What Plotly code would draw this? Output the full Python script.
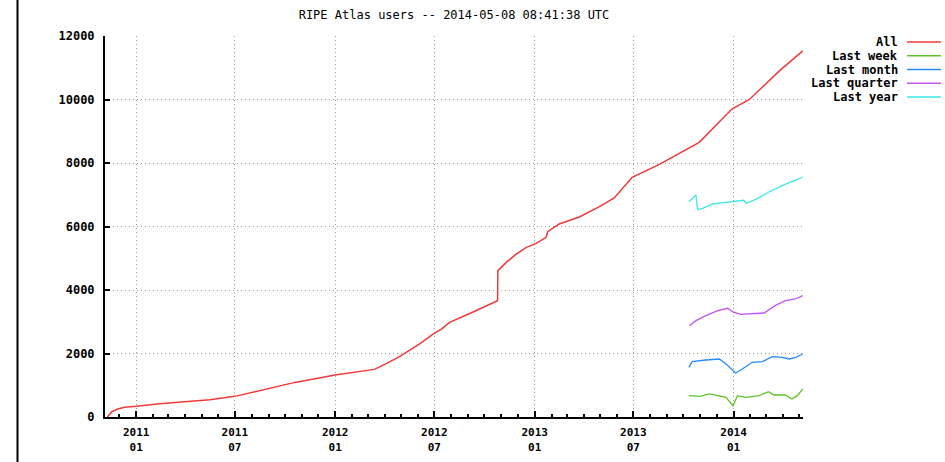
import plotly.graph_objects as go

# ---------------- data ----------------
title_text = "RIPE Atlas users -- 2014-05-08 08:41:38 UTC"
series_names = ["All", "Last week", "Last month", "Last quarter", "Last year"]
series_colors = ["#f03a3a", "#5cc42a", "#2a8af6", "#c455f2", "#3ee8e8"]

all_dates = ["2010-11-09", "2010-11-17", "2010-11-28", "2010-12-11", "2011-01-01",
             "2011-02-13", "2011-03-31", "2011-05-16", "2011-07-01", "2011-08-25",
             "2011-10-19", "2012-01-01", "2012-02-15", "2012-03-13", "2012-04-01",
             "2012-04-28", "2012-06-04", "2012-06-28", "2012-07-14", "2012-07-29",
             "2012-09-09", "2012-10-16", "2012-10-25", "2012-10-25 12:00", "2012-11-10",
             "2012-11-28", "2012-12-17", "2013-01-04", "2013-01-22", "2013-01-25",
             "2013-02-15", "2013-03-24", "2013-04-29", "2013-05-27", "2013-06-29",
             "2013-08-17", "2013-10-30", "2013-12-06", "2013-12-29", "2014-01-30",
             "2014-03-26", "2014-05-08"]
all_values = [0, 160, 250, 310, 340,
              420, 480, 540, 650, 860,
              1090, 1320, 1420, 1500, 1660,
              1900, 2300, 2600, 2770, 2980,
              3300, 3600, 3660, 4610, 4870,
              5130, 5345, 5470, 5660, 5835,
              6080, 6300, 6620, 6900, 7550,
              7950, 8650, 9300, 9700, 10000,
              10900, 11530]

week_dates = ["2013-10-11", "2013-10-31", "2013-11-18", "2013-12-06", "2013-12-18",
              "2013-12-31", "2014-01-08", "2014-01-24", "2014-02-17", "2014-03-06",
              "2014-03-16", "2014-04-06", "2014-04-18", "2014-04-28", "2014-05-08"]
week_values = [672, 651, 725, 672, 620,
               357, 672, 620, 672, 798,
               693, 693, 567, 672, 882]

month_dates = ["2013-10-11", "2013-10-17", "2013-11-11", "2013-12-06", "2013-12-18",
               "2013-12-27", "2014-01-05", "2014-01-17", "2014-02-04", "2014-02-23",
               "2014-03-13", "2014-03-31", "2014-04-13", "2014-04-25", "2014-05-08"]
month_values = [1565, 1743, 1796, 1827, 1670,
                1512, 1386, 1512, 1722, 1743,
                1900, 1880, 1827, 1880, 1985]

quarter_dates = ["2013-10-12", "2013-10-24", "2013-11-11", "2013-12-03", "2013-12-21",
                 "2013-12-30", "2014-01-14", "2014-02-04", "2014-02-26", "2014-03-18",
                 "2014-04-06", "2014-04-24", "2014-05-08"]
quarter_values = [2877, 3034, 3191, 3349, 3423,
                  3318, 3234, 3255, 3276, 3507,
                  3664, 3717, 3822]

year_dates = ["2013-10-11", "2013-10-24", "2013-10-27", "2013-11-05", "2013-11-24",
              "2013-12-18", "2013-12-31", "2014-01-20", "2014-01-24", "2014-02-10",
              "2014-03-06", "2014-03-31", "2014-04-30", "2014-05-08"]
year_values = [6782, 6993, 6530, 6574, 6710,
               6763, 6782, 6825, 6731, 6845,
               7078, 7286, 7497, 7560]

x_tick_vals = ["2011-01-01", "2011-07-01", "2012-01-01", "2012-07-01",
               "2013-01-01", "2013-07-01", "2014-01-01"]
x_tick_text = ["2011<br>01", "2011<br>07", "2012<br>01", "2012<br>07",
               "2013<br>01", "2013<br>07", "2014<br>01"]
y_tick_vals = [0, 2000, 4000, 6000, 8000, 10000, 12000]
x_range = ["2010-11-04 19:00", "2014-05-08 08:41"]
y_range = [0, 12000]

# ---------------- figure ----------------
W, H = 945, 462
L, R, T, B = 105, 142, 36, 45
pw, ph = W - L - R, H - T - B

series = [(all_dates, all_values), (week_dates, week_values), (month_dates, month_values),
          (quarter_dates, quarter_values), (year_dates, year_values)]

fig = go.Figure()
for i, ((xs, ys), name, col) in enumerate(zip(series, series_names, series_colors)):
    fig.add_trace(go.Scatter(x=xs, y=ys, mode="lines", name=name,
                             line=dict(color=col, width=1.5 if i == 0 else 1.3),
                             showlegend=False))

mono = "DejaVu Sans Mono"
tickfont = dict(family=mono, size=12, color="black", weight="bold")
xtickfont = dict(family=mono, size=11, color="black", weight="bold")
grid_dash = "1px,3px"

fig.update_layout(
    width=W, height=H,
    margin=dict(l=L, r=R, t=T, b=B, pad=0, autoexpand=False),
    paper_bgcolor="white", plot_bgcolor="white",
    title=dict(text=title_text, x=(L + pw / 2) / W, xanchor="center",
               y=1 - 15 / H, yanchor="middle", xref="container", yref="container",
               font=dict(family=mono, size=12, color="black")),
    xaxis=dict(type="date", range=x_range, tickmode="array", automargin=False,
               tickvals=x_tick_vals, ticktext=x_tick_text,
               ticks="inside", ticklen=6, tickwidth=2, tickcolor="black",
               showline=True, linecolor="black", linewidth=2,
               showgrid=True, gridcolor="#9a9a9a", griddash=grid_dash, gridwidth=1,
               zeroline=False, tickfont=xtickfont, ticklabelstandoff=4,
               minor=dict(tickmode="linear", tick0="2010-11-01", dtick="M1",
                          ticks="inside", ticklen=3, tickwidth=2, tickcolor="black",
                          showgrid=False)),
    yaxis=dict(range=y_range, tickmode="array", tickvals=y_tick_vals, automargin=False,
               tickformat="d", ticks="inside", ticklen=5, tickwidth=2, tickcolor="black",
               showline=True, linecolor="black", linewidth=2,
               showgrid=True, gridcolor="#9a9a9a", griddash=grid_dash, gridwidth=1,
               zeroline=False, tickfont=tickfont, ticklabelstandoff=6),
)


def px_x(p):
    return (p - L) / pw


def px_y(p):
    return (H - B - p) / ph


# gnuplot-style legend: text right-aligned, line sample to its right
row0, row_step = 42, 13.75
for i, (name, col) in enumerate(zip(series_names, series_colors)):
    yy = px_y(row0 + i * row_step)
    fig.add_annotation(x=px_x(900), y=yy, xref="paper", yref="paper",
                       text=name, showarrow=False, xanchor="right", yanchor="middle",
                       font=dict(family=mono, size=12, color="black", weight="bold"))
    fig.add_shape(type="line", xref="paper", yref="paper",
                  x0=px_x(907), x1=px_x(941), y0=yy, y1=yy,
                  line=dict(color=col, width=1.3))

# page border line on the far left
fig.add_shape(type="line", xref="paper", yref="paper",
              x0=px_x(17.5), x1=px_x(17.5), y0=px_y(H + 5), y1=px_y(-5),
              line=dict(color="black", width=2))

fig.write_html("out.html", config={"displayModeBar": False},
               post_script="document.body.style.margin='0';document.body.style.overflow='hidden';")
